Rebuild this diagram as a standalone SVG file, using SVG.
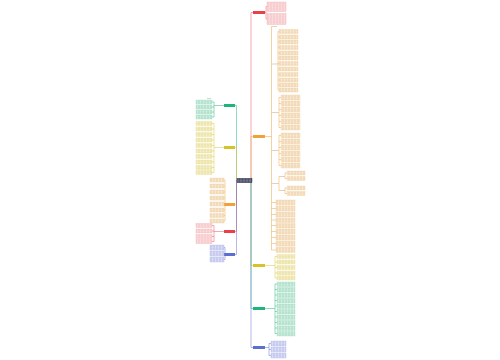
<svg xmlns="http://www.w3.org/2000/svg" width="500" height="360" viewBox="0 0 500 360">
<defs>
<pattern id="pr" width="3" height="1.6" patternUnits="userSpaceOnUse"><rect width="3" height="1.6" fill="#fdedee"/><rect y="0.5" width="2.6" height="0.55" fill="#ef959a"/></pattern>
<pattern id="po" width="3" height="1.6" patternUnits="userSpaceOnUse"><rect width="3" height="1.6" fill="#fff6ea"/><rect y="0.5" width="2.6" height="0.55" fill="#dcaa68"/></pattern>
<pattern id="py" width="3" height="1.6" patternUnits="userSpaceOnUse"><rect width="3" height="1.6" fill="#fffbe5"/><rect y="0.5" width="2.6" height="0.55" fill="#cdbd52"/></pattern>
<pattern id="pg" width="3" height="1.6" patternUnits="userSpaceOnUse"><rect width="3" height="1.6" fill="#ebf8f2"/><rect y="0.5" width="2.6" height="0.55" fill="#58bd92"/></pattern>
<pattern id="pb" width="3" height="1.6" patternUnits="userSpaceOnUse"><rect width="3" height="1.6" fill="#eff1fc"/><rect y="0.5" width="2.6" height="0.55" fill="#7f8bd9"/></pattern>
<pattern id="pw" width="3" height="1.5" patternUnits="userSpaceOnUse"><rect width="3" height="1.5" fill="#1c2541"/><rect y="0.4" width="2.7" height="0.6" fill="#d0d4e0"/></pattern>
</defs>
<style>
.c{fill:none;stroke-width:0.5}
.r{stroke:#e8525a}.o{stroke:#eda447}.y{stroke:#d8c63a}.g{stroke:#2bb57d}.b{stroke:#6672d0}
.lr{fill:url(#pr);stroke:#f4b3b7;stroke-width:0.4}
.lo{fill:url(#po);stroke:#f4d2a2;stroke-width:0.4}
.ly{fill:url(#py);stroke:#ece297;stroke-width:0.4}
.lg{fill:url(#pg);stroke:#a5dfc4;stroke-width:0.4}
.lb{fill:url(#pb);stroke:#b8bfed;stroke-width:0.4}
.br{fill:#e8414a}.bo{fill:#f0a13a}.by{fill:#d6c22a}.bg{fill:#22b37a}.bb{fill:#5b6fd1}
.s{fill:#c9c9c9}
</style>
<rect width="500" height="360" fill="#ffffff"/>
<g id="connectors">
<path class="c r" d="M252 180.5 H251 V12.5 H253"/>
<path class="c o" d="M252 180.5 H251 V136.5 H253"/>
<path class="c y" d="M252 180.5 H251 V265.5 H253"/>
<path class="c g" d="M252 180.5 H251 V308.5 H253"/>
<path class="c b" d="M252 180.5 H251 V347.5 H253"/>
<path class="c g" d="M237 180.5 H236.5 V105.5 H235"/>
<path class="c y" d="M237 180.5 H236.5 V147.5 H235"/>
<path class="c o" d="M237 180.5 H236.5 V204.5 H235"/>
<path class="c r" d="M237 180.5 H236.5 V231.5 H235"/>
<path class="c b" d="M237 180.5 H236.5 V254.5 H235"/>
<path class="c r" d="M265 12.5 H266 M266 6.5 V19 M266 6.5 H267 M266 19 H267"/>
<path class="c o" d="M265 136.5 H271.5 M271.5 26.5 V250 M271.5 26.5 H274 M271.5 64 H274 M271.5 112.5 H274 M271.5 150.5 H274 M271.5 183.5 H274 M271.5 202.5 H276 M271.5 208.5 H276 M271.5 214.5 H276 M271.5 220 H276 M271.5 225.5 H276 M271.5 231.5 H276 M271.5 237.5 H276 M271.5 243.5 H276 M271.5 250 H276"/>
<path class="c o" d="M277 64 H278 M278 31.5 V90 M278 31.5 H279 M278 37 H279 M278 42 H279 M278 47.5 H279 M278 53 H279 M278 58 H279 M278 63.5 H279 M278 69 H279 M278 74.5 H279 M278 80 H279 M278 85 H279 M278 90 H279"/>
<path class="c o" d="M277 112.5 H279 M279 97.5 V127.5 M279 97.5 H281 M279 103.5 H281 M279 109.5 H281 M279 115.5 H281 M279 121.5 H281 M279 127.5 H281"/>
<path class="c o" d="M277 150.5 H279 M279 135.5 V165.5 M279 135.5 H281 M279 141.5 H281 M279 147.5 H281 M279 153.5 H281 M279 159.5 H281 M279 165.5 H281"/>
<path class="c o" d="M277 183.5 H279 M279 176.5 V190.5 M279 176.5 H281 M279 190.5 H281 M284 176.5 H285 M285 173 V178.5 M285 173 H287 M285 178.5 H287 M284 190.5 H285 M285 188 V193.5 M285 188 H287 M285 193.5 H287"/>
<path class="c y" d="M265 265.5 H275 M275 256.5 V278 M275 256.5 H277 M275 262 H277 M275 267.5 H277 M275 273 H277 M275 278 H277"/>
<path class="c g" d="M265 308.5 H275 M275 284 V333.5 M275 284 H277 M275 289.5 H277 M275 295 H277 M275 300.5 H277 M275 306 H277 M275 311.5 H277 M275 317 H277 M275 322.5 H277 M275 328 H277 M275 333.5 H277"/>
<path class="c b" d="M265 347.5 H269 M269 343.5 V355.5 M269 343.5 H271 M269 349.5 H271 M269 355.5 H271"/>
<path class="c g" d="M224 105.5 H214 M214 102 V117 M214 102 H212 M214 107 H212 M214 112 H212 M214 117 H212"/>
<path class="c y" d="M224 147.5 H214 M214 123.5 V172.5 M214 123.5 H212 M214 129 H212 M214 134.5 H212 M214 140 H212 M214 145.5 H212 M214 151 H212 M214 156.5 H212 M214 162 H212 M214 167.5 H212 M214 172.5 H212"/>
<path class="c o" d="M224 204.5 H225 M225 180 V221 M225 180 H224 M225 186 H224 M225 192 H224 M225 198 H224 M225 204 H224 M225 210 H224 M225 215.5 H224 M225 221 H224"/>
<path class="c r" d="M224 231.5 H214 M214 225.5 V241.5 M214 225.5 H212 M214 231 H212 M214 236.5 H212 M214 241.5 H212"/>
<path class="c b" d="M224 254.5 H225 M225 247.5 V259.5 M225 247.5 H224 M225 253.5 H224 M225 259.5 H224"/>
</g>
<g id="root"><rect x="237" y="178.3" width="15" height="4.4" fill="url(#pw)" stroke="#1c2541" stroke-width="0.4"/></g>
<g id="branch-right-red"><rect class="br" x="253" y="11" width="12" height="3"/></g>
<g id="branch-right-orange"><rect class="bo" x="253" y="135" width="12" height="3"/></g>
<g id="branch-right-yellow"><rect class="by" x="253" y="264" width="12" height="3"/></g>
<g id="branch-right-green"><rect class="bg" x="253" y="307" width="12" height="3"/></g>
<g id="branch-right-blue"><rect class="bb" x="253" y="346" width="12" height="3"/></g>
<g id="branch-left-green"><rect class="bg" x="224" y="104" width="11" height="3"/></g>
<g id="branch-left-yellow"><rect class="by" x="224" y="146" width="11" height="3"/></g>
<g id="branch-left-orange"><rect class="bo" x="224" y="203" width="11" height="3"/></g>
<g id="branch-left-red"><rect class="br" x="224" y="230" width="11" height="3"/></g>
<g id="branch-left-blue"><rect class="bb" x="224" y="253" width="11" height="3"/></g>
<g id="leaves-right-red">
<rect class="lr" x="267" y="2" width="19" height="9.5"/>
<rect class="lr" x="267" y="13.5" width="19" height="11"/>
</g>
<g id="leaves-right-orange">
<rect class="s" x="274" y="26" width="3" height="0.8"/>
<rect class="s" x="274" y="63.6" width="3" height="0.8"/>
<rect class="s" x="274" y="112" width="3" height="0.8"/>
<rect class="s" x="274" y="150" width="3" height="0.8"/>
<rect class="s" x="274" y="183" width="3" height="0.8"/>
<rect class="s" x="281" y="176" width="3" height="0.8"/>
<rect class="s" x="281" y="190" width="3" height="0.8"/>
<rect class="lo" x="279" y="29.5" width="19" height="4"/>
<rect class="lo" x="279" y="35" width="19" height="4"/>
<rect class="lo" x="279" y="40" width="19" height="4"/>
<rect class="lo" x="279" y="45.5" width="19" height="4"/>
<rect class="lo" x="279" y="51" width="19" height="4"/>
<rect class="lo" x="279" y="56" width="19" height="4"/>
<rect class="lo" x="279" y="61.5" width="19" height="4"/>
<rect class="lo" x="279" y="67" width="19" height="4"/>
<rect class="lo" x="279" y="72.5" width="19" height="4"/>
<rect class="lo" x="279" y="78" width="19" height="4"/>
<rect class="lo" x="279" y="83" width="19" height="4"/>
<rect class="lo" x="279" y="88" width="19" height="4"/>
<rect class="lo" x="281" y="95" width="19" height="5"/>
<rect class="lo" x="281" y="101" width="19" height="5"/>
<rect class="lo" x="281" y="107" width="19" height="5"/>
<rect class="lo" x="281" y="113" width="19" height="5"/>
<rect class="lo" x="281" y="119" width="19" height="5"/>
<rect class="lo" x="281" y="125" width="19" height="5"/>
<rect class="lo" x="281" y="133" width="19" height="5"/>
<rect class="lo" x="281" y="139" width="19" height="5"/>
<rect class="lo" x="281" y="145" width="19" height="5"/>
<rect class="lo" x="281" y="151" width="19" height="5"/>
<rect class="lo" x="281" y="157" width="19" height="5"/>
<rect class="lo" x="281" y="163" width="19" height="5"/>
<rect class="lo" x="287" y="171" width="18" height="4"/>
<rect class="lo" x="287" y="176.5" width="18" height="4"/>
<rect class="lo" x="287" y="186" width="18" height="4"/>
<rect class="lo" x="287" y="191.5" width="18" height="4"/>
<rect class="lo" x="276" y="200" width="19" height="5"/>
<rect class="lo" x="276" y="206" width="19" height="5"/>
<rect class="lo" x="276" y="212" width="19" height="5"/>
<rect class="lo" x="276" y="218" width="19" height="4.5"/>
<rect class="lo" x="276" y="223.5" width="19" height="4.5"/>
<rect class="lo" x="276" y="229" width="19" height="5"/>
<rect class="lo" x="276" y="235" width="19" height="5"/>
<rect class="lo" x="276" y="241" width="19" height="5"/>
<rect class="lo" x="276" y="247" width="19" height="5.5"/>
</g>
<g id="leaves-right-yellow">
<rect class="ly" x="277" y="254.5" width="18" height="4"/>
<rect class="ly" x="277" y="260" width="18" height="4"/>
<rect class="ly" x="277" y="265.5" width="18" height="4"/>
<rect class="ly" x="277" y="271" width="18" height="4"/>
<rect class="ly" x="277" y="276" width="18" height="4"/>
</g>
<g id="leaves-right-green">
<rect class="lg" x="277" y="282" width="18" height="4.5"/>
<rect class="lg" x="277" y="287.5" width="18" height="4.5"/>
<rect class="lg" x="277" y="293" width="18" height="4.5"/>
<rect class="lg" x="277" y="298.5" width="18" height="4.5"/>
<rect class="lg" x="277" y="304" width="18" height="4.5"/>
<rect class="lg" x="277" y="309.5" width="18" height="4.5"/>
<rect class="lg" x="277" y="315" width="18" height="4.5"/>
<rect class="lg" x="277" y="320.5" width="18" height="4.5"/>
<rect class="lg" x="277" y="326" width="18" height="4.5"/>
<rect class="lg" x="277" y="331.5" width="18" height="4.5"/>
</g>
<g id="leaves-right-blue">
<rect class="lb" x="271" y="341" width="15" height="5"/>
<rect class="lb" x="271" y="347" width="15" height="5"/>
<rect class="lb" x="271" y="353" width="15" height="5"/>
</g>
<g id="leaves-left-green">
<rect class="s" x="207" y="98" width="4" height="0.8"/>
<rect class="lg" x="196" y="100" width="16" height="4"/>
<rect class="lg" x="196" y="105" width="16" height="4"/>
<rect class="lg" x="196" y="110" width="16" height="4"/>
<rect class="lg" x="196" y="115" width="16" height="4"/>
</g>
<g id="leaves-left-yellow">
<rect class="ly" x="196" y="121.5" width="16" height="4"/>
<rect class="ly" x="196" y="127" width="16" height="4"/>
<rect class="ly" x="196" y="132.5" width="16" height="4"/>
<rect class="ly" x="196" y="138" width="16" height="4"/>
<rect class="ly" x="196" y="143.5" width="16" height="4"/>
<rect class="ly" x="196" y="149" width="16" height="4"/>
<rect class="ly" x="196" y="154.5" width="16" height="4"/>
<rect class="ly" x="196" y="160" width="16" height="4"/>
<rect class="ly" x="196" y="165.5" width="16" height="4"/>
<rect class="ly" x="196" y="170.5" width="16" height="4"/>
</g>
<g id="leaves-left-orange">
<rect class="lo" x="210" y="178" width="14" height="4"/>
<rect class="lo" x="210" y="184" width="14" height="4"/>
<rect class="lo" x="210" y="190" width="14" height="4"/>
<rect class="lo" x="210" y="196" width="14" height="4"/>
<rect class="lo" x="210" y="202" width="14" height="4"/>
<rect class="lo" x="210" y="208" width="14" height="4"/>
<rect class="lo" x="210" y="213.5" width="14" height="4"/>
<rect class="lo" x="210" y="219" width="14" height="4"/>
</g>
<g id="leaves-left-red">
<rect class="lr" x="196" y="223.5" width="16" height="4"/>
<rect class="lr" x="196" y="229" width="16" height="4"/>
<rect class="lr" x="196" y="234.5" width="16" height="4"/>
<rect class="lr" x="196" y="239.5" width="16" height="4"/>
</g>
<g id="leaves-left-blue">
<rect class="lb" x="210" y="245" width="14" height="5"/>
<rect class="lb" x="210" y="251" width="14" height="5"/>
<rect class="lb" x="210" y="257" width="14" height="5"/>
</g>
</svg>
